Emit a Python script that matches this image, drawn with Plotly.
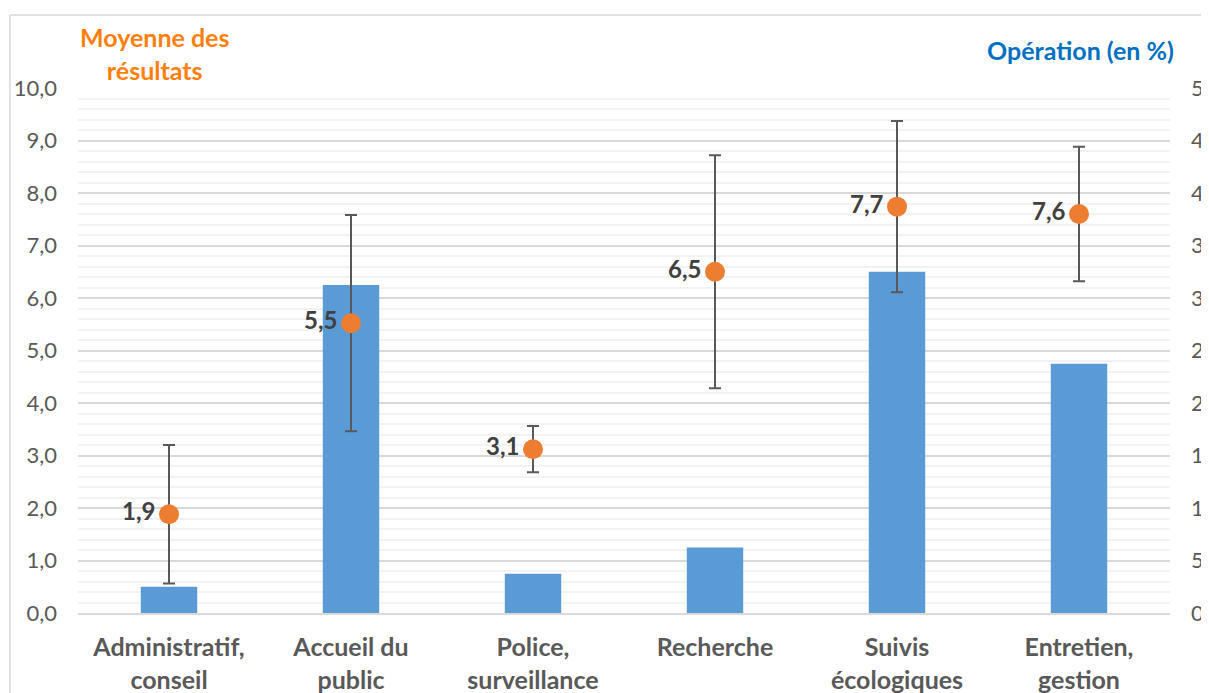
import plotly.graph_objects as go

categories = ["Administratif,<br>conseil", "Accueil du<br>public", "Police,<br>surveillance",
              "Recherche", "Suivis<br>écologiques", "Entretien,<br>gestion"]
operation_pct = [2.5, 31.25, 3.75, 6.25, 32.5, 23.75]
moyenne = [1.88, 5.52, 3.12, 6.5, 7.74, 7.6]
erreur = [1.32, 2.06, 0.44, 2.22, 1.63, 1.28]

FONT = "Lato"
OFF = 8  # default body margin of the html page
W, H = 1209 - 2 * OFF, 693 - OFF
# page-pixel targets
PL, PR, PT, PB = 78, 1170, 88, 613
L, R, T, B = PL - OFF, (W + OFF) - PR, PT - OFF, (H + OFF) - PB

fig = go.Figure()
fig.add_trace(go.Bar(
    x=categories, y=operation_pct, yaxis="y",
    marker=dict(color="#5B9BD5", line=dict(width=0)),
    width=0.31, showlegend=False, hoverinfo="skip"))
fig.add_trace(go.Scatter(
    x=categories, y=moyenne, yaxis="y2", mode="markers+text",
    marker=dict(color="#ED7D31", size=20),
    error_y=dict(type="data", array=erreur, visible=True, color="#595959", thickness=2, width=6),
    texttemplate="%{y:.1f}", textposition="middle left",
    textfont=dict(family=FONT, size=24, color="#404040", weight="bold"),
    showlegend=False, cliponaxis=False))

pw = PR - PL
ph = PB - PT
def px(p):
    return (p - PL) / pw
def py(q):
    return (PB - q) / ph

fig.update_layout(
    width=W, height=H, autosize=False,
    margin=dict(l=L, r=R, t=T, b=B, autoexpand=False),
    paper_bgcolor="white", plot_bgcolor="white",
    separators=", ",
    font=dict(family=FONT, color="#595959"),
    xaxis=dict(
        showgrid=False, showline=True, linecolor="#D9D9D9", linewidth=2,
        ticks="", tickfont=dict(family=FONT, size=25, color="#595959", weight="bold"),
        ticklabelstandoff=11, range=[-0.5, 5.5], automargin=False),
    yaxis=dict(
        range=[0, 50], dtick=5, side="right", showline=False, zeroline=False,
        gridcolor="#D9D9D9", gridwidth=1.5,
        minor=dict(dtick=1, showgrid=True, gridcolor="#F2F2F2", gridwidth=1.5),
        ticks="", tickfont=dict(family=FONT, size=22, color="#595959"),
        ticklabelstandoff=20, automargin=False),
    yaxis2=dict(
        range=[0, 10], dtick=1, tickformat=".1f", overlaying="y", side="left",
        showgrid=False, zeroline=False, showline=False, ticks="",
        tickfont=dict(family=FONT, size=22, color="#595959"),
        ticklabelstandoff=20, automargin=False),
    shapes=[
        dict(type="line", xref="paper", yref="paper",
             x0=px(10), x1=px(1300), y0=py(15), y1=py(15),
             line=dict(color="#D9D9D9", width=1.5), layer="below"),
        dict(type="line", xref="paper", yref="paper",
             x0=px(10), x1=px(10), y0=py(15), y1=py(760),
             line=dict(color="#D9D9D9", width=1.5), layer="below"),
    ],
    annotations=[
        dict(text="Moyenne des<br>résultats", xref="paper", yref="paper",
             x=px(154), y=py(54), xanchor="center", yanchor="middle", showarrow=False,
             font=dict(family=FONT, size=25, color="#FF7F0E", weight="bold")),
        dict(text="Opération (en %)", xref="paper", yref="paper",
             x=px(1176), y=py(50), xanchor="right", yanchor="middle", showarrow=False,
             font=dict(family=FONT, size=25, color="#0070C0", weight="bold")),
    ],
)

fig.write_html("out.html")
